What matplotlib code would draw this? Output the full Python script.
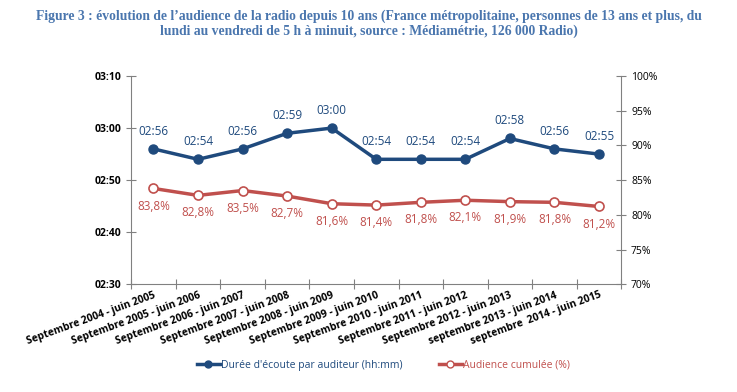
import matplotlib
matplotlib.use("Agg")
import matplotlib.pyplot as plt
from matplotlib.lines import Line2D

categories = ["Septembre 2004 - juin 2005", "Septembre 2005 - juin 2006",
              "Septembre 2006 - juin 2007", "Septembre 2007 - juin 2008",
              "Septembre 2008 - juin 2009", "Septembre 2009 - juin 2010",
              "Septembre 2010 - juin 2011", "Septembre 2011 - juin 2012",
              "Septembre 2012 - juin 2013", "septembre 2013 - juin 2014",
              "septembre  2014 - juin 2015"]
duree_labels = ["02:56", "02:54", "02:56", "02:59", "03:00", "02:54",
                "02:54", "02:54", "02:58", "02:56", "02:55"]
audience = [83.8, 82.8, 83.5, 82.7, 81.6, 81.4, 81.8, 82.1, 81.9, 81.8, 81.2]
left_ticks = ["02:30", "02:40", "02:50", "03:00", "03:10"]
right_ticks = [70, 75, 80, 85, 90, 95, 100]

def to_min(s):
    h, m = s.split(":")
    return int(h) * 60 + int(m)

duree = [to_min(s) for s in duree_labels]

BLUE = "#1F4A7D"
RED = "#C0504D"
TITLE = "#4A76AE"
FONT = "Open Sans"

fig = plt.figure(figsize=(7.37, 3.92), dpi=100)
ax = fig.add_axes([0.178, 0.275, 0.665, 0.531])
ax2 = ax.twinx()

x = list(range(len(categories)))
ax.plot(x, duree, color=BLUE, lw=2.5, marker="o", ms=6.5, zorder=3)
ax2.plot(x, audience, color=RED, lw=2.5, marker="o", ms=6.5,
         markerfacecolor="white", markeredgecolor=RED, markeredgewidth=1.2, zorder=3)

ax.set_xlim(-0.5, len(categories) - 0.5)
ax.set_ylim(to_min("02:30"), to_min("03:10"))
ax2.set_ylim(70, 100)

for xi, v, lab in zip(x, duree, duree_labels):
    ax.annotate(lab, (xi, v), xytext=(0, 8), textcoords="offset points",
                ha="center", va="bottom", color=BLUE, fontsize=8.5, family=FONT)
for xi, v in zip(x, audience):
    ax2.annotate(f"{v:.1f}%".replace(".", ","), (xi, v), xytext=(0, -8),
                 textcoords="offset points", ha="center", va="top",
                 color=RED, fontsize=8.5, family=FONT)

ax.set_yticks([to_min(t) for t in left_ticks])
ax.set_yticklabels(left_ticks, fontsize=7.5, fontweight="bold", family=FONT)
ax2.set_yticks(right_ticks)
ax2.set_yticklabels([f"{t}%" for t in right_ticks], fontsize=7.5, family=FONT)

ax.set_xticks([i + 0.5 for i in range(-1, len(categories))])
ax.set_xticklabels([])
ax.set_xticks(x, minor=True)
ax.set_xticklabels(categories, minor=True, rotation=20, ha="right",
                   rotation_mode="anchor", fontsize=7.4, fontweight="bold", family=FONT)
ax.tick_params(axis="x", which="minor", length=0, pad=4)
ax.tick_params(axis="x", which="major", direction="inout", length=7, color="#808080")
ax.tick_params(axis="y", direction="inout", length=7, color="#808080")
ax2.tick_params(axis="y", direction="inout", length=7, color="#808080")

for a in (ax, ax2):
    a.spines["top"].set_visible(False)
    for s in ("left", "right", "bottom"):
        a.spines[s].set_color("#808080")
ax.spines["right"].set_visible(False)
ax2.spines["left"].set_visible(False)
ax2.spines["bottom"].set_visible(False)

fig.text(0.5, 0.975, "Figure 3 : évolution de l’audience de la radio depuis 10 ans (France métropolitaine, personnes de 13 ans et plus, du\nlundi au vendredi de 5 h à minuit, source : Médiamétrie, 126 000 Radio)",
         ha="center", va="top", fontsize=9.8, fontweight="bold",
         family="Liberation Serif", color=TITLE, linespacing=1.15)

handles = [Line2D([], [], color=BLUE, lw=2.5, marker="o", ms=5),
           Line2D([], [], color=RED, lw=2.5, marker="o", ms=5,
                  markerfacecolor="white", markeredgecolor=RED)]
leg = fig.legend(handles, ["Durée d'écoute par auditeur (hh:mm)", "Audience cumulée (%)"],
                 loc="center", bbox_to_anchor=(0.52, 0.068), ncol=2, frameon=False,
                 prop={"family": FONT, "size": 7.5}, handlelength=2.2,
                 columnspacing=3.5, handletextpad=0.1)
for t, c in zip(leg.get_texts(), (BLUE, RED)):
    t.set_color(c)

fig.savefig("out.png", dpi=100)
